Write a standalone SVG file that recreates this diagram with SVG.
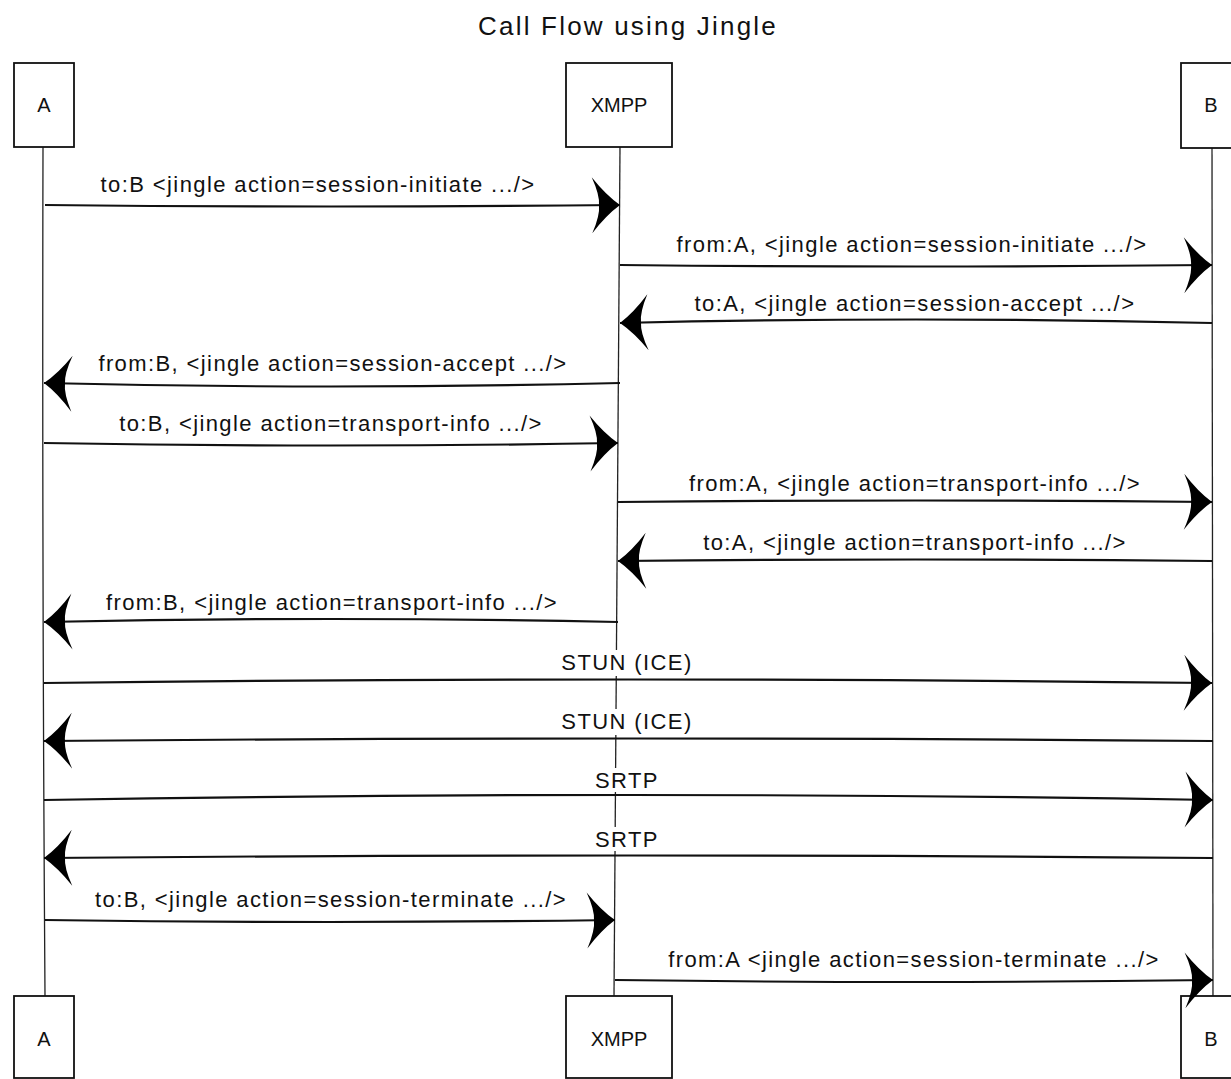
<svg xmlns="http://www.w3.org/2000/svg" width="1231" height="1079" viewBox="0 0 1231 1079">
<style>
.box{fill:#fff;stroke:#111;stroke-width:1.8}
.life{fill:none;stroke:#222;stroke-width:1.3}
.msg{fill:none;stroke:#111;stroke-width:2.2;marker-end:url(#ah)}
.lbl{font-family:"Liberation Sans",Arial,sans-serif;font-size:22px;letter-spacing:1.4px;fill:#111;text-anchor:middle}
.name{font-family:"Liberation Sans",Arial,sans-serif;font-size:20px;fill:#111;text-anchor:middle}
.title{font-family:"Liberation Sans",Arial,sans-serif;font-size:26px;letter-spacing:2.2px;fill:#111;text-anchor:middle}
.bg{fill:#fff}
</style>
<defs>
<marker id="ah" markerUnits="userSpaceOnUse" viewBox="-32 -30 34 60" refX="0" refY="0" markerWidth="34" markerHeight="60" orient="auto">
<path d="M0,0 Q-14,-10 -28,-28 Q-20,-10 -21,0 Q-20,10 -28,28 Q-14,10 0,0 Z" fill="#000"/>
</marker>
</defs>
<rect width="1231" height="1079" fill="#fff"/>
<text class="title" x="628" y="35">Call Flow using Jingle</text>
<g id="lifelines">
<path class="life" d="M43,147 Q42,570 45,996"/>
<path class="life" d="M620,147 Q617,570 614,996"/>
<path class="life" d="M1212,148 Q1213,570 1213,996"/>
</g>
<g id="node-A-top"><rect class="box" x="14" y="63" width="60" height="84"/><text class="name" x="44" y="112">A</text></g>
<g id="node-XMPP-top"><rect class="box" x="566" y="63" width="106" height="84"/><text class="name" x="619" y="112">XMPP</text></g>
<g id="node-B-top"><rect class="box" x="1181" y="63" width="60" height="85"/><text class="name" x="1211" y="112">B</text></g>
<g id="node-A-bottom"><rect class="box" x="14" y="996" width="60" height="82"/><text class="name" x="44" y="1046">A</text></g>
<g id="node-XMPP-bottom"><rect class="box" x="566" y="996" width="106" height="82"/><text class="name" x="619" y="1046">XMPP</text></g>
<g id="node-B-bottom"><rect class="box" x="1181" y="996" width="60" height="82"/><text class="name" x="1211" y="1046">B</text></g>
<g id="connectors">
<path class="msg" d="M45,205 Q330,208 620,205"/>
<path class="msg" d="M620,265 Q916,268 1212,265"/>
<path class="msg" d="M1212,323 Q916,316 620,323"/>
<path class="msg" d="M620,383 Q330,390 44,383"/>
<path class="msg" d="M44,443 Q330,448 618,443"/>
<path class="msg" d="M618,502 Q916,499 1212,502"/>
<path class="msg" d="M1212,561 Q916,558 618,561"/>
<path class="msg" d="M618,622 Q330,616 44,622"/>
<path class="msg" d="M44,683 Q628,676 1212,683"/>
<path class="msg" d="M1213,741 Q628,736 44,741"/>
<path class="msg" d="M44,800 Q628,790 1213,800"/>
<path class="msg" d="M1213,858 Q628,853 44,858"/>
<path class="msg" d="M45,920 Q330,924 615,920"/>
<path class="msg" d="M615,980 Q916,984 1213,980"/>
</g>
<g id="labels">
<rect class="bg" x="550" y="650" width="154" height="26"/>
<rect class="bg" x="550" y="709" width="154" height="26"/>
<rect class="bg" x="590" y="768" width="74" height="24"/>
<rect class="bg" x="590" y="827" width="74" height="24"/>
<text class="lbl" x="318" y="192">to:B &lt;jingle action=session-initiate .../&gt;</text>
<text class="lbl" x="912" y="252">from:A, &lt;jingle action=session-initiate .../&gt;</text>
<text class="lbl" x="915" y="311">to:A, &lt;jingle action=session-accept .../&gt;</text>
<text class="lbl" x="333" y="371">from:B, &lt;jingle action=session-accept .../&gt;</text>
<text class="lbl" x="331" y="431">to:B, &lt;jingle action=transport-info .../&gt;</text>
<text class="lbl" x="915" y="491">from:A, &lt;jingle action=transport-info .../&gt;</text>
<text class="lbl" x="915" y="550">to:A, &lt;jingle action=transport-info .../&gt;</text>
<text class="lbl" x="332" y="610">from:B, &lt;jingle action=transport-info .../&gt;</text>
<text class="lbl" x="627" y="670">STUN (ICE)</text>
<text class="lbl" x="627" y="729">STUN (ICE)</text>
<text class="lbl" x="627" y="788">SRTP</text>
<text class="lbl" x="627" y="847">SRTP</text>
<text class="lbl" x="331" y="907">to:B, &lt;jingle action=session-terminate .../&gt;</text>
<text class="lbl" x="914" y="967">from:A &lt;jingle action=session-terminate .../&gt;</text>
</g>
</svg>
